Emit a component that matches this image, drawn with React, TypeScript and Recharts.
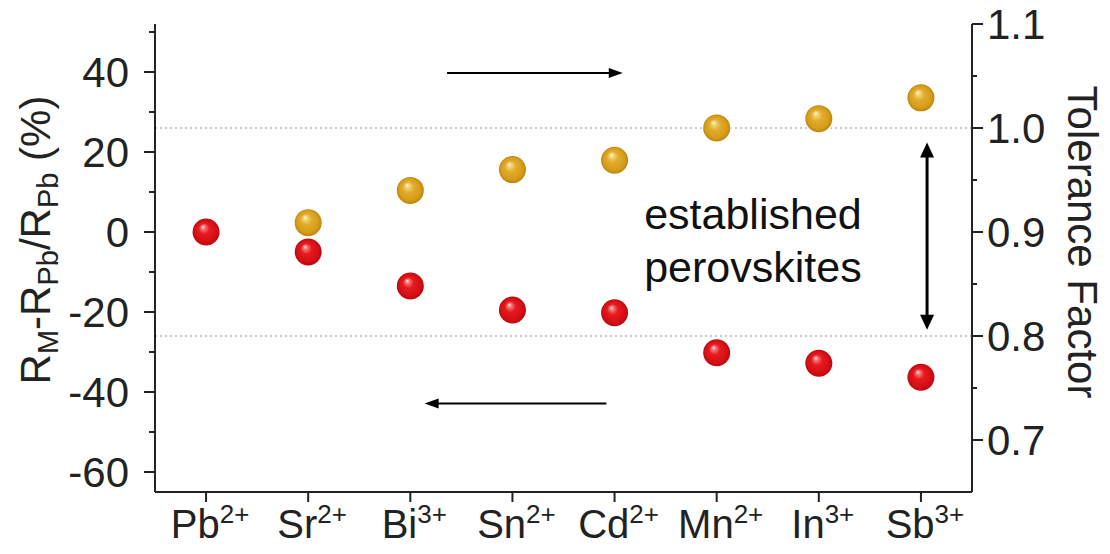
import React from 'react';
import { ScatterChart, Scatter, XAxis, YAxis, ReferenceLine, ReferenceDot } from 'recharts';

const FONT = '"Liberation Sans", Arial, Helvetica, sans-serif';
const INK = '#222';

// B-site cations and their charges
const ions = ['Pb', 'Sr', 'Bi', 'Sn', 'Cd', 'Mn', 'In', 'Sb'];
const charges = ['2+', '2+', '3+', '2+', '2+', '2+', '3+', '3+'];

// Relative ionic radius difference (%), left axis
const radiusDeviation = [0, -5, -13.5, -19.5, -20.2, -30.2, -32.8, -36.3];
// Goldschmidt tolerance factor, right axis (no value for Pb)
const toleranceFactor = [null, 0.909, 0.94, 0.96, 0.969, 1.0, 1.009, 1.029];

const leftTicks = [50, 40, 30, 20, 10, 0, -10, -20, -30, -40, -50, -60];
const rightTicks = [1.1, 1.05, 1.0, 0.95, 0.9, 0.85, 0.8, 0.75, 0.7];
const xTicks = [0, 1, 2, 3, 4, 5, 6, 7];

const radiusData = radiusDeviation.map((y, x) => ({ x, y }));
const toleranceData = toleranceFactor
  .map((y, x) => ({ x, y }))
  .filter((d) => d.y !== null);

const makeSphere = (id: string, stops: [string, string][]) => (props: any) => {
  const { cx, cy } = props;
  if (cx == null || cy == null) return null;
  return (
    <g>
      <defs>
        <radialGradient id={id} cx="0.5" cy="0.5" r="0.5" fx="0.38" fy="0.3">
          {stops.map(([o, c]) => (
            <stop key={o} offset={o} stopColor={c} />
          ))}
        </radialGradient>
      </defs>
      <circle cx={cx} cy={cy} r={15} fill="#fff" opacity={0.6} />
      <circle cx={cx} cy={cy} r={13.5} fill={`url(#${id})`} />
    </g>
  );
};

const RedSphere = makeSphere('sphereRed', [
  ['0%', '#fff4f4'],
  ['14%', '#f57a7a'],
  ['40%', '#e8191f'],
  ['80%', '#d40f14'],
  ['100%', '#b80a0e'],
]);

const GoldSphere = makeSphere('sphereGold', [
  ['0%', '#fffbea'],
  ['14%', '#f3d57e'],
  ['42%', '#e2ab2a'],
  ['80%', '#d69d1b'],
  ['100%', '#bd860f'],
]);

const LeftTick = (props: any) => {
  const { x, y, payload } = props;
  const v = payload.value;
  const major = Math.abs(v) % 20 === 0;
  return (
    <g>
      <line x1={x} x2={x - (major ? 11 : 6)} y1={y} y2={y} stroke={INK} strokeWidth={2} />
      {major && (
        <text x={x - 26} y={y} dy="0.36em" textAnchor="end" fontSize={42} fontFamily={FONT} fill={INK}>
          {v}
        </text>
      )}
    </g>
  );
};

const RightTick = (props: any) => {
  const { x, y, payload } = props;
  const v = payload.value;
  const major = Math.round(v * 100) % 10 === 0;
  return (
    <g>
      <line x1={x} x2={x + (major ? 11 : 5)} y1={y} y2={y} stroke={INK} strokeWidth={2} />
      {major && (
        <text x={x + 15} y={y} dy="0.36em" textAnchor="start" fontSize={42} fontFamily={FONT} fill={INK}>
          {v.toFixed(1)}
        </text>
      )}
    </g>
  );
};

const BottomTick = (props: any) => {
  const { x, y, payload } = props;
  const i = payload.value;
  return (
    <g>
      <line x1={x} x2={x} y1={y} y2={y + 10} stroke={INK} strokeWidth={2} />
      <text x={x + 4} y={y + 46} textAnchor="middle" fontSize={40} fontFamily={FONT} fill={INK}>
        <tspan>{ions[i]}</tspan>
        <tspan fontSize={26} dy={-15}>
          {charges[i]}
        </tspan>
      </text>
    </g>
  );
};

const LeftTitle = () => (
  <text
    x={50}
    y={240}
    transform="rotate(-90, 50, 240)"
    textAnchor="middle"
    fontSize={42}
    fontFamily={FONT}
    fill={INK}
  >
    <tspan>R</tspan>
    <tspan fontSize={29} dy={8}>M</tspan>
    <tspan dy={-8}>-R</tspan>
    <tspan fontSize={29} dy={8}>Pb</tspan>
    <tspan dy={-8}>/R</tspan>
    <tspan fontSize={29} dy={8}>Pb</tspan>
    <tspan dy={-8}> (%)</tspan>
  </text>
);

const RightTitle = () => (
  <text
    x={1068}
    y={242}
    transform="rotate(90, 1068, 242)"
    textAnchor="middle"
    fontSize={42}
    fontFamily={FONT}
    fill={INK}
  >
    Tolerance Factor
  </text>
);

// Line with a filled triangular head at the end (and optionally at the start)
const makeArrow = (both: boolean, width: number, head: number, half: number) => (p: any) => {
  const { x1, y1, x2, y2 } = p;
  if ([x1, y1, x2, y2].some((v) => v == null || Number.isNaN(v))) return null;
  const len = Math.hypot(x2 - x1, y2 - y1);
  const ux = (x2 - x1) / len;
  const uy = (y2 - y1) / len;
  const nx = -uy;
  const ny = ux;
  const tri = (tx: number, ty: number, dx: number, dy: number) =>
    `${tx},${ty} ${tx - dx * head + nx * half},${ty - dy * head + ny * half} ${tx - dx * head - nx * half},${ty - dy * head - ny * half}`;
  const sx = both ? x1 + ux * (head - 1) : x1;
  const sy = both ? y1 + uy * (head - 1) : y1;
  return (
    <g>
      <line x1={sx} y1={sy} x2={x2 - ux * (head - 1)} y2={y2 - uy * (head - 1)} stroke="#000" strokeWidth={width} />
      <polygon points={tri(x2, y2, ux, uy)} fill="#000" />
      {both && <polygon points={tri(x1, y1, -ux, -uy)} fill="#000" />}
    </g>
  );
};

const SingleArrow = makeArrow(false, 2, 14, 5);
const DoubleArrow = makeArrow(true, 3, 15, 7);

const Annotation = (p: any) => {
  const { cx, cy } = p;
  if (cx == null || cy == null) return null;
  return (
    <g fontSize={43} fontFamily={FONT} fill="#111">
      <text x={cx} y={cy - 3}>established</text>
      <text x={cx} y={cy + 50}>perovskites</text>
    </g>
  );
};

export default function App() {
  return (
    <div style={{ position: 'absolute', left: 0, top: 0, width: 1110, height: 554, background: '#fff' }}>
      <ScatterChart width={1110} height={554} margin={{ top: 24, right: 0, bottom: 0, left: 0 }}>
        <XAxis
          dataKey="x"
          type="number"
          domain={[-0.5, 7.5]}
          ticks={xTicks}
          interval={0}
          height={62}
          allowDataOverflow
          axisLine={{ stroke: INK, strokeWidth: 2 }}
          tickLine={false}
          tickSize={0}
          tickMargin={0}
          tick={<BottomTick />}
        />
        <XAxis
          xAxisId="top"
          orientation="top"
          type="number"
          domain={[-0.5, 7.5]}
          height={0}
          allowDataOverflow
          axisLine={{ stroke: INK, strokeWidth: 2 }}
          tickLine={false}
          tick={false}
        />
        <YAxis
          yAxisId="left"
          dataKey="y"
          type="number"
          orientation="left"
          domain={[-65, 52]}
          ticks={leftTicks}
          interval={0}
          width={155}
          allowDataOverflow
          axisLine={{ stroke: INK, strokeWidth: 2 }}
          tickLine={false}
          tickSize={0}
          tickMargin={0}
          tick={<LeftTick />}
          label={{ content: <LeftTitle /> }}
        />
        <YAxis
          yAxisId="right"
          dataKey="y"
          type="number"
          orientation="right"
          domain={[0.65, 1.1]}
          ticks={rightTicks}
          interval={0}
          width={138}
          allowDataOverflow
          axisLine={{ stroke: INK, strokeWidth: 2 }}
          tickLine={false}
          tickSize={0}
          tickMargin={0}
          tick={<RightTick />}
          label={{ content: <RightTitle /> }}
        />

        <ReferenceLine yAxisId="right" y={1.0} stroke="#b8b8b8" strokeWidth={1.5} strokeDasharray="2 3" />
        <ReferenceLine yAxisId="right" y={0.8} stroke="#b8b8b8" strokeWidth={1.5} strokeDasharray="2 3" />

        <ReferenceLine
          yAxisId="left"
          segment={[
            { x: 2.36, y: 39.75 },
            { x: 4.08, y: 39.75 },
          ]}
          shape={SingleArrow}
        />
        <ReferenceLine
          yAxisId="left"
          segment={[
            { x: 3.92, y: -42.9 },
            { x: 2.14, y: -42.9 },
          ]}
          shape={SingleArrow}
        />
        <ReferenceLine
          yAxisId="right"
          segment={[
            { x: 7.06, y: 0.986 },
            { x: 7.06, y: 0.806 },
          ]}
          shape={DoubleArrow}
        />
        <ReferenceDot yAxisId="left" x={4.29} y={0} r={0} shape={Annotation} />

        <Scatter data={radiusData} yAxisId="left" shape={RedSphere} isAnimationActive={false} />
        <Scatter data={toleranceData} yAxisId="right" shape={GoldSphere} isAnimationActive={false} />
      </ScatterChart>
    </div>
  );
}
